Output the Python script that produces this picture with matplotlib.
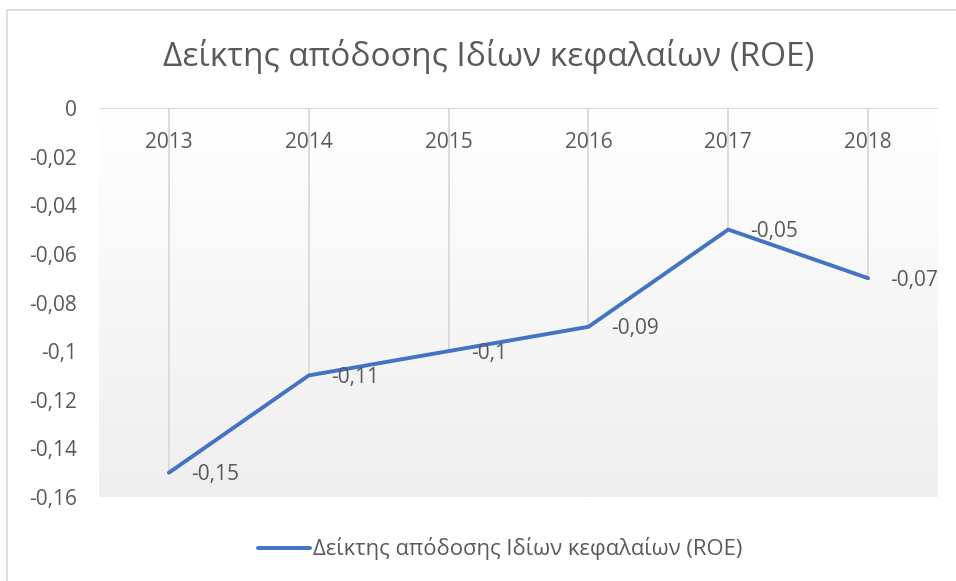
import matplotlib
matplotlib.use("Agg")
import matplotlib.pyplot as plt
import numpy as np
from matplotlib.lines import Line2D

years = ["2013", "2014", "2015", "2016", "2017", "2018"]
roe = [-0.15, -0.11, -0.10, -0.09, -0.05, -0.07]
labels = ["-0,15", "-0,11", "-0,1", "-0,09", "-0,05", "-0,07"]
yticks = [0, -0.02, -0.04, -0.06, -0.08, -0.10, -0.12, -0.14, -0.16]
ytick_labels = ["0", "-0,02", "-0,04", "-0,06", "-0,08", "-0,1", "-0,12", "-0,14", "-0,16"]
series_name = "Δείκτης απόδοσης Ιδίων κεφαλαίων (ROE)"

plt.rcParams['font.family'] = ['Open Sans', 'DejaVu Sans']
txt = "#595959"
fs = 15
W, H = 956, 581
fig = plt.figure(figsize=(W / 100, H / 100), dpi=100)

# chart border (top and left visible)
fig.add_artist(Line2D([7 / W, 1], [1 - 10 / H, 1 - 10 / H], color="#d9d9d9", lw=1.2))
fig.add_artist(Line2D([7 / W, 7 / W], [0, 1 - 10 / H], color="#d9d9d9", lw=1.2))

ax = fig.add_axes([99 / W, 1 - 497 / H, (938 - 99) / W, (497 - 108) / H])
x = np.arange(len(years))
ax.set_xlim(-0.5, len(years) - 0.5)
ax.set_ylim(-0.16, 0)

# gradient background
grad = np.linspace(1, 0, 256).reshape(-1, 1)
top_c = np.array([1.0, 1.0, 1.0])
bot_c = np.array([0xef, 0xef, 0xef]) / 255
img = top_c * grad[..., None] + bot_c * (1 - grad[..., None])
img = img.reshape(256, 1, 3)
ax.imshow(img, extent=[-0.5, len(years) - 0.5, -0.16, 0], aspect='auto', zorder=0)

# axis line at 0 and drop lines
ax.axhline(0, color="#d9d9d9", lw=1.3, zorder=1)
ax.vlines(x, roe, 0, color="#d9d9d9", lw=1.3, zorder=1)

ax.plot(x, roe, color="#4472C4", lw=2.8, solid_capstyle='round', solid_joinstyle='round', zorder=3)

for xi, yi, lb in zip(x, roe, labels):
    ax.annotate(lb, (xi, yi), xytext=(16, -1.5), textcoords='offset points',
                ha='left', va='center', fontsize=fs, color=txt, zorder=4)

for xi, yr in zip(x, years):
    ax.text(xi, -0.014, yr, ha='center', va='center', fontsize=fs, color=txt, zorder=4)

ax.set_yticks(yticks)
ax.set_yticklabels(ytick_labels, fontsize=fs, color=txt)
ax.tick_params(axis='y', length=0, pad=16)
ax.set_xticks([])
for s in ax.spines.values():
    s.set_visible(False)

fig.text(489 / W, 1 - 57 / H, series_name, ha='center', va='center', fontsize=24, color=txt)

# legend
fig.add_artist(Line2D([258 / W, 310 / W], [1 - 548 / H, 1 - 548 / H], color="#4472C4", lw=2.8,
                      solid_capstyle='round'))
fig.text(313 / W, 1 - 548 / H, series_name, ha='left', va='center', fontsize=15.8, color=txt)

fig.savefig("out.png", dpi=100)
